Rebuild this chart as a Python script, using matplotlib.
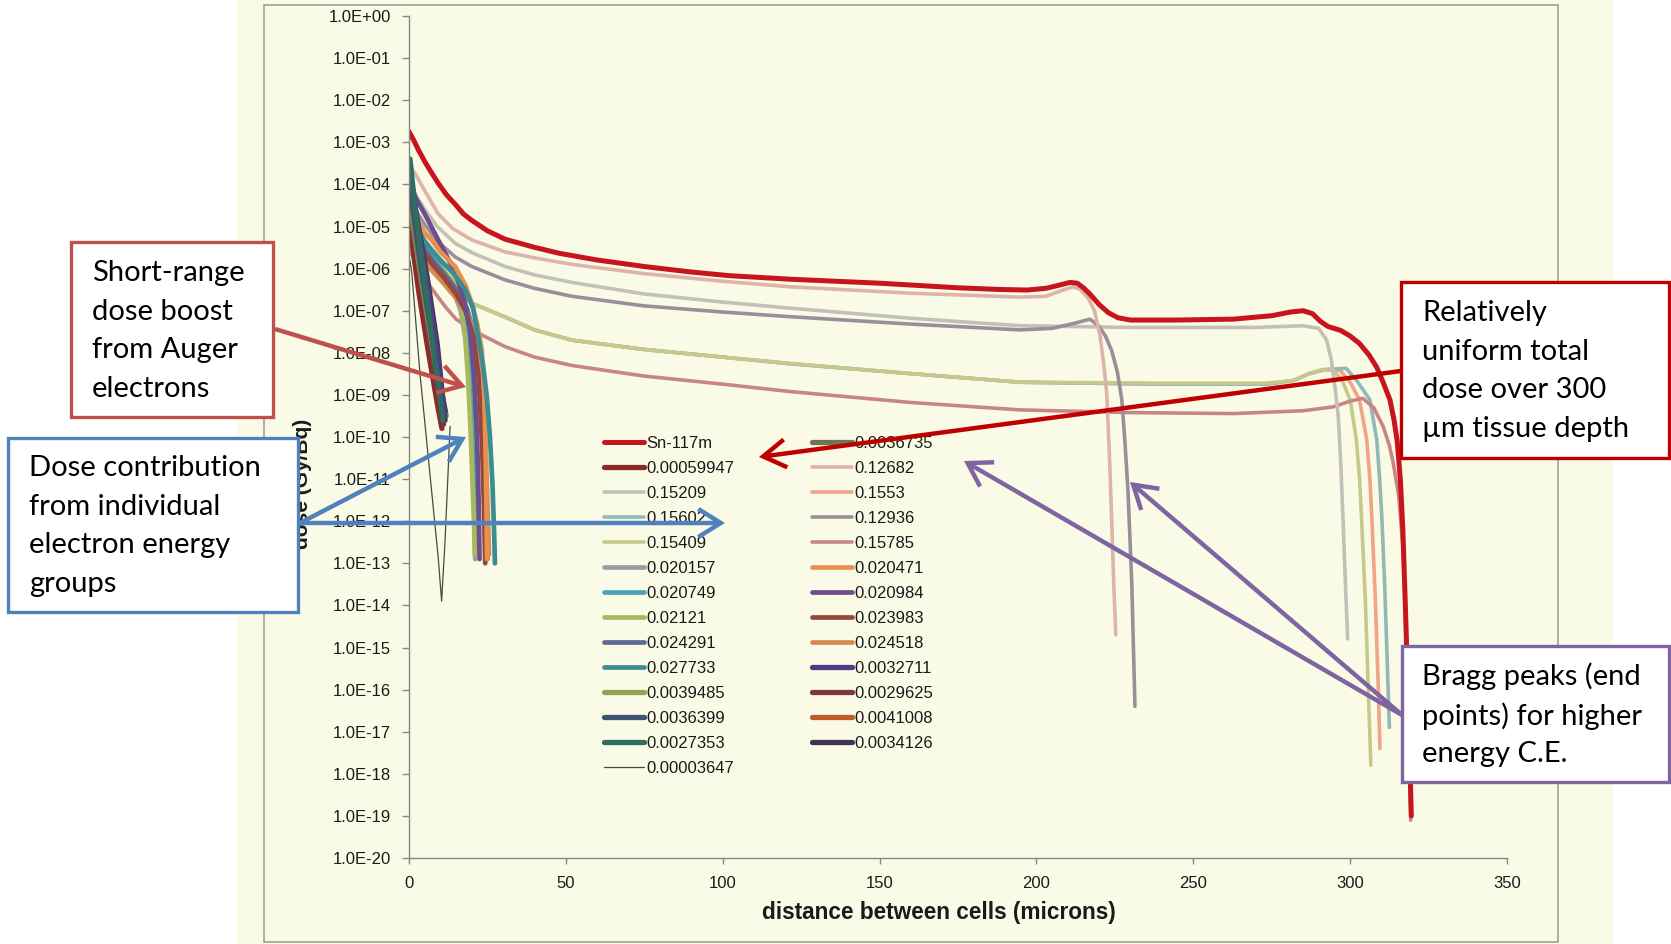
import matplotlib
matplotlib.use("Agg")
import matplotlib.pyplot as plt
from matplotlib.transforms import Affine2D
from matplotlib.patches import Rectangle, FancyArrowPatch
from matplotlib.ticker import LogLocator, NullLocator, FuncFormatter

# ---------------- data ----------------
X_SN = [0, 1.5, 3, 5, 7, 9.3, 12, 15, 17.3, 20, 25, 30.6, 40, 48, 60, 75, 90, 102, 121.5, 150,
        175, 188, 197, 203, 207, 210.7, 213, 215, 217, 220, 223, 226, 230, 245, 262.7, 275, 281,
        285, 288, 290.5, 293, 297, 300, 303, 306, 308.5, 310.5, 312.7, 314, 315, 316, 316.8,
        317.6, 318.5, 319.5]
Y_SN = [1.8e-3, 1.12e-3, 6.6e-4, 3.5e-4, 2.0e-4, 1.07e-4, 5.6e-5, 3.2e-5, 2.0e-5, 1.4e-5, 7.9e-6,
        5.0e-6, 3.2e-6, 2.3e-6, 1.6e-6, 1.12e-6, 8.3e-7, 6.8e-7, 5.6e-7, 4.5e-7, 3.5e-7, 3.2e-7,
        3.1e-7, 3.4e-7, 4.0e-7, 4.7e-7, 4.5e-7, 3.5e-7, 2.5e-7, 1.4e-7, 8.9e-8, 6.8e-8, 6.0e-8,
        6.0e-8, 6.3e-8, 7.6e-8, 9.3e-8, 1.0e-7, 8.5e-8, 5.6e-8, 4.2e-8, 3.4e-8, 2.5e-8, 1.66e-8,
        8.9e-9, 4.5e-9, 2.0e-9, 7.6e-10, 2.5e-10, 7.9e-11, 1.0e-11, 6.3e-13, 1.0e-14, 6.3e-17,
        1.0e-19]

X_0_12682 = [0.5, 2, 5, 9.3, 14, 20, 30.6, 40, 51.9, 75, 100, 121.5, 160, 194.8, 203, 208, 211.7,
             214, 216.5, 218.5, 220.3, 221.5, 222.4, 223.3, 224, 224.7, 225.3]
Y_0_12682 = [2.5e-4, 1.8e-4, 7.1e-5, 2.0e-5, 8.9e-6, 4.8e-6, 2.5e-6, 1.8e-6, 1.26e-6, 7.6e-7,
             5.0e-7, 3.7e-7, 2.6e-7, 2.1e-7, 2.2e-7, 3.0e-7, 3.7e-7, 3.2e-7, 2.0e-7, 1.0e-7,
             2.5e-8, 5.0e-9, 1.1e-9, 3.2e-11, 1.0e-12, 2.5e-14, 2.0e-15]

X_0_15209 = [0.5, 2.5, 5.1, 9, 14.7, 20, 30.6, 40, 51.9, 75, 100, 121.5, 160, 194.8, 230, 270, 285,
             290, 292.5, 294, 295.3, 296.2, 297, 297.7, 298.5, 299.2]
Y_0_15209 = [7.9e-5, 5.0e-5, 2.5e-5, 1.0e-5, 4.0e-6, 2.4e-6, 1.12e-6, 7.1e-7, 4.7e-7, 2.5e-7,
             1.6e-7, 1.15e-7, 6.6e-8, 4.4e-8, 4.0e-8, 4.0e-8, 4.4e-8, 3.8e-8, 2.0e-8, 6.8e-9,
             1.26e-9, 3.2e-10, 2.5e-11, 1.26e-12, 3.2e-14, 1.6e-15]

X_0_12936 = [0.5, 2.5, 5, 9, 14.7, 20, 30.6, 40, 51.9, 75, 100, 121.5, 160, 194.8, 205, 212, 217.1,
             220, 222, 224, 225.8, 227.2, 228.2, 229.2, 230.4, 231.4]
Y_0_12936 = [4.0e-5, 2.2e-5, 1.12e-5, 4.5e-6, 1.9e-6, 1.12e-6, 5.4e-7, 3.4e-7, 2.2e-7, 1.3e-7,
             9.3e-8, 7.2e-8, 4.8e-8, 3.5e-8, 3.8e-8, 5.0e-8, 6.3e-8, 4.2e-8, 2.5e-8, 1.12e-8,
             3.5e-9, 7.9e-10, 7.9e-11, 5.0e-12, 3.2e-14, 4.0e-17]

X_0_15409 = [0.5, 3, 6, 9.3, 14, 20, 30.6, 40, 51.9, 75, 100, 121.5, 160, 194.8, 240, 273.4, 282,
             287, 291, 294.6, 297.5, 300, 302, 303, 303.6, 304.8, 305.7, 306.6]
Y_0_15409 = [1.0e-5, 3.5e-6, 1.4e-6, 7.8e-7, 3.2e-7, 1.5e-7, 7.2e-8, 3.5e-8, 2.0e-8, 1.2e-8,
             7.9e-9, 5.6e-9, 3.2e-9, 2.0e-9, 1.9e-9, 1.9e-9, 2.2e-9, 3.2e-9, 4.0e-9, 3.8e-9,
             2.2e-9, 7.6e-10, 8.5e-11, 1.0e-11, 1.26e-12, 1.6e-14, 1.6e-16, 1.6e-18]

X_0_1553 = [0.5, 3, 6, 9.3, 14, 20, 30.6, 40, 51.9, 75, 100, 121.5, 160, 194.8, 240, 273.4, 282,
            287, 292, 296.8, 300, 303, 305.3, 306.3, 306.9, 308, 308.9, 309.5]
Y_0_1553 = [8.9e-6, 3.4e-6, 1.4e-6, 7.6e-7, 3.2e-7, 1.5e-7, 7.1e-8, 3.5e-8, 2.0e-8, 1.2e-8,
            7.9e-9, 5.5e-9, 3.2e-9, 2.0e-9, 1.8e-9, 1.8e-9, 2.2e-9, 3.2e-9, 4.0e-9, 3.8e-9,
            2.0e-9, 7.6e-10, 8.5e-11, 1.0e-11, 1.26e-12, 1.6e-14, 1.6e-16, 4.0e-18]

X_0_15602 = [0.5, 3, 6, 9.3, 14, 20, 30.6, 40, 51.9, 75, 100, 121.5, 160, 194.8, 240, 273.4, 282,
             287, 292, 298.7, 302.5, 306.3, 308.5, 309.4, 310.1, 311, 311.7, 312.5]
Y_0_15602 = [8.9e-6, 3.4e-6, 1.4e-6, 7.6e-7, 3.2e-7, 1.5e-7, 7.1e-8, 3.5e-8, 2.0e-8, 1.2e-8,
             7.9e-9, 5.5e-9, 3.2e-9, 2.0e-9, 1.8e-9, 1.8e-9, 2.2e-9, 3.2e-9, 4.0e-9, 4.3e-9,
             2.0e-9, 7.6e-10, 8.5e-11, 1.0e-11, 1.26e-12, 3.2e-14, 8.7e-16, 1.26e-17]

X_0_15785 = [0.5, 3, 6, 11.5, 15, 20, 30.6, 40, 51.9, 75, 100, 121.5, 160, 194.8, 230, 262.7, 285,
             294.6, 300, 304, 307.5, 310.5, 312.5, 313.7, 315.5, 316.9, 317.6, 318.1, 318.8, 319.3]
Y_0_15785 = [2.5e-6, 1.0e-6, 4.5e-7, 1.26e-7, 6.3e-8, 3.5e-8, 1.4e-8, 7.9e-9, 5.0e-9, 2.8e-9,
             1.8e-9, 1.2e-9, 6.6e-10, 4.4e-10, 3.8e-10, 3.6e-10, 4.2e-10, 5.2e-10, 7.1e-10, 8.3e-10,
             5.0e-10, 1.8e-10, 6.3e-11, 2.5e-11, 4.0e-12, 2.0e-13, 1.0e-14, 1.6e-16, 3.2e-18,
             7.9e-20]

X_0_020157 = [0.3, 2, 5, 8, 11, 14, 16.5, 18.3, 19.5, 20.3, 20.8, 21.1]
Y_0_020157 = [1.6e-5, 7.9e-6, 3.2e-6, 1.6e-6, 7.9e-7, 3.2e-7, 1.0e-7, 1.6e-8, 1.26e-9, 5.0e-11,
              2.0e-12, 1.26e-13]
X_0_020471 = [0.3, 1.5, 3, 5, 7.2, 10, 14.7, 18, 20, 21.8, 23.2, 24.0, 24.4, 24.7, 24.9]
Y_0_020471 = [5.0e-5, 2.2e-5, 1.26e-5, 7.1e-6, 4.8e-6, 2.5e-6, 1.12e-6, 4.0e-7, 1.5e-7, 4.5e-8,
              1.2e-8, 1.26e-9, 5.0e-11, 2.0e-12, 1.26e-13]
X_0_020749 = [0.3, 2, 5, 8, 11, 14, 17, 19, 20.5, 21.3, 21.8, 22.1]
Y_0_020749 = [2.5e-5, 1.0e-5, 3.5e-6, 1.8e-6, 8.9e-7, 4.0e-7, 1.26e-7, 2.0e-8, 1.26e-9, 5.0e-11,
              2.5e-12, 2.5e-13]
X_0_020984 = [0.3, 2, 5, 9.3, 12, 15, 17.5, 19.5, 20.8, 21.7, 22.2, 22.5]
Y_0_020984 = [1.26e-4, 5.0e-5, 2.0e-5, 4.8e-6, 2.0e-6, 7.1e-7, 2.0e-7, 3.2e-8, 2.5e-9, 1.0e-10,
              3.2e-12, 1.26e-13]
X_0_02121 = [0.3, 2, 5, 8, 11, 14.7, 16.5, 17.9, 18.9, 19.6, 20.2, 20.7, 21.0]
Y_0_02121 = [1.0e-5, 5.6e-6, 2.5e-6, 1.4e-6, 8.9e-7, 4.5e-7, 1.4e-7, 2.5e-8, 2.0e-9, 1.6e-10,
             1.0e-11, 1.0e-12, 1.6e-13]
X_0_023983 = [0.3, 2, 5, 8, 11, 15, 18, 20.5, 22.2, 23.3, 23.9, 24.3]
Y_0_023983 = [1.26e-5, 6.3e-6, 2.2e-6, 1.12e-6, 6.3e-7, 2.5e-7, 1.0e-7, 2.5e-8, 2.5e-9, 6.3e-11,
              2.0e-12, 1.0e-13]
X_0_024291 = [0.3, 2, 5, 8, 11, 15, 18.5, 21, 22.8, 24, 24.6, 25]
Y_0_024291 = [2.0e-5, 8.9e-6, 2.8e-6, 1.4e-6, 7.9e-7, 3.2e-7, 1.12e-7, 2.5e-8, 2.0e-9, 5.0e-11,
              2.0e-12, 1.26e-13]
X_0_024518 = [0.3, 2, 5, 8, 11, 15, 18.5, 21.2, 23.2, 24.5, 25.1, 25.5]
Y_0_024518 = [6.3e-6, 3.5e-6, 1.4e-6, 7.9e-7, 4.5e-7, 2.0e-7, 8.9e-8, 2.5e-8, 2.0e-9, 4.0e-11,
              1.6e-12, 1.6e-13]
X_0_027733 = [0.3, 1.5, 3, 5, 7.2, 10, 14, 17.9, 20.5, 22.1, 23.6, 24.8, 25.8, 26.6, 27.1, 27.4]
Y_0_027733 = [2.5e-5, 1.26e-5, 7.9e-6, 4.5e-6, 2.8e-6, 1.6e-6, 7.9e-7, 3.2e-7, 1.12e-7, 2.4e-8,
              5.0e-9, 9.1e-10, 1.0e-10, 7.9e-12, 6.3e-13, 1.0e-13]

X_0_00059947 = [0.3, 3, 6, 9, 10.5]
Y_0_00059947 = [1.0e-5, 3.2e-7, 1.26e-8, 6.3e-10, 1.6e-10]
X_0_0027353 = [0.3, 2, 5, 8, 10.8]
Y_0_0027353 = [4.0e-4, 2.5e-5, 5.0e-7, 1.0e-8, 2.5e-10]
X_0_0029625 = [0.3, 3, 6, 9, 11]
Y_0_0029625 = [2.5e-5, 1.0e-6, 4.0e-8, 1.6e-9, 2.0e-10]
X_0_0032711 = [0.3, 3, 6, 9, 11.2]
Y_0_0032711 = [2.0e-4, 7.9e-6, 3.2e-7, 1.0e-8, 3.2e-10]
X_0_0034126 = [0.3, 3, 6, 9, 11.5]
Y_0_0034126 = [1.6e-4, 1.0e-5, 5.0e-7, 1.6e-8, 2.5e-10]
X_0_0036399 = [0.3, 3, 6, 9, 11.6]
Y_0_0036399 = [1.0e-4, 3.2e-6, 1.0e-7, 4.0e-9, 4.0e-10]
X_0_0036735 = [0.3, 3, 6, 9, 11.6]
Y_0_0036735 = [6.3e-5, 2.0e-6, 7.9e-8, 3.2e-9, 3.2e-10]
X_0_0039485 = [0.3, 3, 6, 9, 11.9]
Y_0_0039485 = [4.0e-5, 1.6e-6, 6.3e-8, 3.2e-9, 3.2e-10]
X_0_0041008 = [0.3, 2, 4.5, 7, 9, 10.5]
Y_0_0041008 = [1.26e-5, 1.6e-6, 1.26e-7, 7.9e-9, 1.0e-9, 2.5e-10]

X_0_00003647 = [0.3, 0.9, 3.5, 6.7, 9.3, 10.4, 11.5, 13.1]
Y_0_00003647 = [1.6e-6, 7.9e-7, 3.2e-9, 1.26e-11, 1.4e-13, 1.26e-14, 3.5e-13, 1.8e-10]

X_TICKS = [0, 50, 100, 150, 200, 250, 300, 350]
X_LABEL = "distance between cells (microns)"
Y_LABEL = "dose (Gy/Bq)"

LEGEND_COL1 = ["Sn-117m", "0.00059947", "0.15209", "0.15602", "0.15409", "0.020157", "0.020749",
               "0.02121", "0.024291", "0.027733", "0.0039485", "0.0036399", "0.0027353",
               "0.00003647"]
LEGEND_COL2 = ["0.0036735", "0.12682", "0.1553", "0.12936", "0.15785", "0.020471", "0.020984",
               "0.023983", "0.024518", "0.0032711", "0.0029625", "0.0041008", "0.0034126"]

BOX_TEXTS = ["Short-range\ndose boost\nfrom Auger\nelectrons",
             "Dose contribution\nfrom individual\nelectron energy\ngroups",
             "Relatively\nuniform total\ndose over 300\n\u00b5m tissue depth",
             "Bragg peaks (end\npoints) for higher\nenergy C.E."]

# ---------------- series table (data + style) ----------------
SERIES = {
    "Sn-117m": (X_SN, Y_SN, "#C8141E", 3.6),
    "0.12682": (X_0_12682, Y_0_12682, "#DDB3AA", 2.6),
    "0.15209": (X_0_15209, Y_0_15209, "#C3C0B8", 2.6),
    "0.12936": (X_0_12936, Y_0_12936, "#9A8E9C", 2.6),
    "0.1553": (X_0_1553, Y_0_1553, "#F2A486", 2.6),
    "0.15602": (X_0_15602, Y_0_15602, "#94B8B5", 2.6),
    "0.15409": (X_0_15409, Y_0_15409, "#C5CA8C", 2.6),
    "0.15785": (X_0_15785, Y_0_15785, "#C98585", 2.6),
    "0.020157": (X_0_020157, Y_0_020157, "#9C9CA6", 3.4),
    "0.020471": (X_0_020471, Y_0_020471, "#E8914E", 3.4),
    "0.020749": (X_0_020749, Y_0_020749, "#4DA3B3", 3.4),
    "0.020984": (X_0_020984, Y_0_020984, "#6D4E88", 3.4),
    "0.02121": (X_0_02121, Y_0_02121, "#A6B95E", 3.4),
    "0.023983": (X_0_023983, Y_0_023983, "#94473F", 3.4),
    "0.024291": (X_0_024291, Y_0_024291, "#5A6A92", 3.4),
    "0.024518": (X_0_024518, Y_0_024518, "#D48B52", 3.4),
    "0.027733": (X_0_027733, Y_0_027733, "#3B8D93", 3.4),
    "0.00059947": (X_0_00059947, Y_0_00059947, "#8A2B2B", 3.8),
    "0.0027353": (X_0_0027353, Y_0_0027353, "#2F6C61", 3.8),
    "0.0029625": (X_0_0029625, Y_0_0029625, "#7F3636", 3.8),
    "0.0032711": (X_0_0032711, Y_0_0032711, "#523B86", 3.8),
    "0.0034126": (X_0_0034126, Y_0_0034126, "#40354F", 3.8),
    "0.0036399": (X_0_0036399, Y_0_0036399, "#3C5372", 3.8),
    "0.0036735": (X_0_0036735, Y_0_0036735, "#6E7552", 3.8),
    "0.0039485": (X_0_0039485, Y_0_0039485, "#93A254", 3.8),
    "0.0041008": (X_0_0041008, Y_0_0041008, "#BA5D2B", 3.8),
    "0.00003647": (X_0_00003647, Y_0_00003647, "#4A4A3A", 0.9),
}
DRAW_ORDER = ["0.1553", "0.15602", "0.15409", "0.15785", "0.15209", "0.12936", "0.12682",
              "0.020157", "0.020749", "0.02121", "0.024291", "0.024518", "0.023983", "0.020984",
              "0.020471", "0.027733",
              "0.0041008", "0.00059947", "0.0029625", "0.0039485", "0.0036735", "0.0036399",
              "0.0034126", "0.0032711", "0.0027353", "0.00003647", "Sn-117m"]

# ---------------- figure ----------------
W, H = 1671, 944
fig = plt.figure(figsize=(W / 100, H / 100), dpi=100)
fig.patch.set_facecolor("white")
PX = Affine2D().scale(1.0 / W, -1.0 / H).translate(0, 1) + fig.transFigure

fig.add_artist(Rectangle((237, 0), 1376, 944, transform=PX, facecolor="#FAFBE6",
                         edgecolor="none", zorder=-10))
fig.add_artist(Rectangle((264, 5), 1294, 937, transform=PX, facecolor="none",
                         edgecolor="#9A9A8E", lw=1.1, zorder=-9))

ax = fig.add_axes([409 / W, 1 - 858 / H, (1507 - 409) / W, (858 - 16) / H])
ax.set_facecolor("none")

lines = {}
for name in DRAW_ORDER:
    xs, ys, col, lw = SERIES[name]
    (ln,) = ax.plot(xs, ys, color=col, lw=lw, solid_capstyle="round",
                    solid_joinstyle="round", label=name)
    lines[name] = ln

ax.set_yscale("log")
ax.set_ylim(1e-20, 1)
ax.set_xlim(0, 350)
ax.yaxis.set_major_locator(LogLocator(base=10, numticks=30))
ax.yaxis.set_minor_locator(NullLocator())
ax.yaxis.set_major_formatter(FuncFormatter(lambda v, p: f"{v:.1E}"))
ax.set_xticks(X_TICKS)
ax.xaxis.set_minor_locator(NullLocator())

for s in ["top", "right"]:
    ax.spines[s].set_visible(False)
for s in ["left", "bottom"]:
    ax.spines[s].set_color("#868686")
    ax.spines[s].set_linewidth(1.0)

ax.tick_params(axis="y", direction="out", length=5, width=1, color="#868686", pad=8,
               labelsize=12, labelcolor="#1a1a1a")
ax.tick_params(axis="x", direction="out", length=4, width=1, color="#868686", pad=9,
               labelsize=12, labelcolor="#1a1a1a")
for lab in ax.get_xticklabels() + ax.get_yticklabels():
    lab.set_family("Liberation Sans")

ax.set_xlabel(X_LABEL, family="Liberation Sans", weight="bold", size=16.3, color="#1a1a1a",
              va="center")
ax.xaxis.set_label_coords((939 - 409) / 1098, (858 - 913) / 842)
ax.set_ylabel(Y_LABEL, family="Liberation Sans", weight="bold", size=15, color="#1a1a1a",
              va="center")
ax.yaxis.set_label_coords((303 - 409) / 1098, (858 - 484) / 842)

handles = [lines[n] for n in LEGEND_COL1 + LEGEND_COL2]
leg = ax.legend(handles, LEGEND_COL1 + LEGEND_COL2, ncol=2, loc="upper left",
                bbox_to_anchor=(604 / W, 1 - 436 / H), bbox_transform=fig.transFigure,
                frameon=False, prop={"family": "Liberation Sans", "size": 12},
                handlelength=2.4, handletextpad=0.12, columnspacing=4.7,
                labelspacing=0.6, borderpad=0, borderaxespad=0)
for t in leg.get_texts():
    t.set_color("#1a1a1a")

# ---------------- annotation boxes ----------------
boxes = [
    ((71, 242, 202, 175), "#C0504D", (92, 331), BOX_TEXTS[0]),
    ((8, 438, 290, 174), "#4F81BD", (29, 526), BOX_TEXTS[1]),
    ((1401, 282, 268, 176), "#C00000", (1422, 371), BOX_TEXTS[2]),
    ((1402, 646, 267, 136), "#8064A2", (1422, 715), BOX_TEXTS[3]),
]
spacings = [1.6, 1.6, 1.6, 1.53]
for ((bx, by, bw, bh), ec, (tx, ty), txt), lsp in zip(boxes, spacings):
    fig.add_artist(Rectangle((bx, by), bw, bh, transform=PX, facecolor="white",
                             edgecolor=ec, lw=2.4, zorder=5))
    fig.text(tx, ty, txt, transform=PX, ha="left", va="center", family="Lato", size=21,
             color="black", linespacing=lsp, zorder=6)

arrows = [
    ((275, 329), (466, 387), "#C0504D"),
    ((300, 523), (466, 437), "#4F81BD"),
    ((300, 523), (725, 523), "#4F81BD"),
    ((1401, 371), (759, 457), "#C00000"),
    ((1402, 715), (964, 461), "#8064A2"),
    ((1402, 715), (1130, 482), "#8064A2"),
]
for p0, p1, col in arrows:
    fig.add_artist(FancyArrowPatch(p0, p1, transform=PX,
                                   arrowstyle="->,head_length=0.45,head_width=0.28",
                                   mutation_scale=36, color=col, lw=3.2, shrinkA=0, shrinkB=0,
                                   zorder=7, capstyle="butt", joinstyle="miter"))

fig.savefig("out.png", dpi=100, facecolor="white")
